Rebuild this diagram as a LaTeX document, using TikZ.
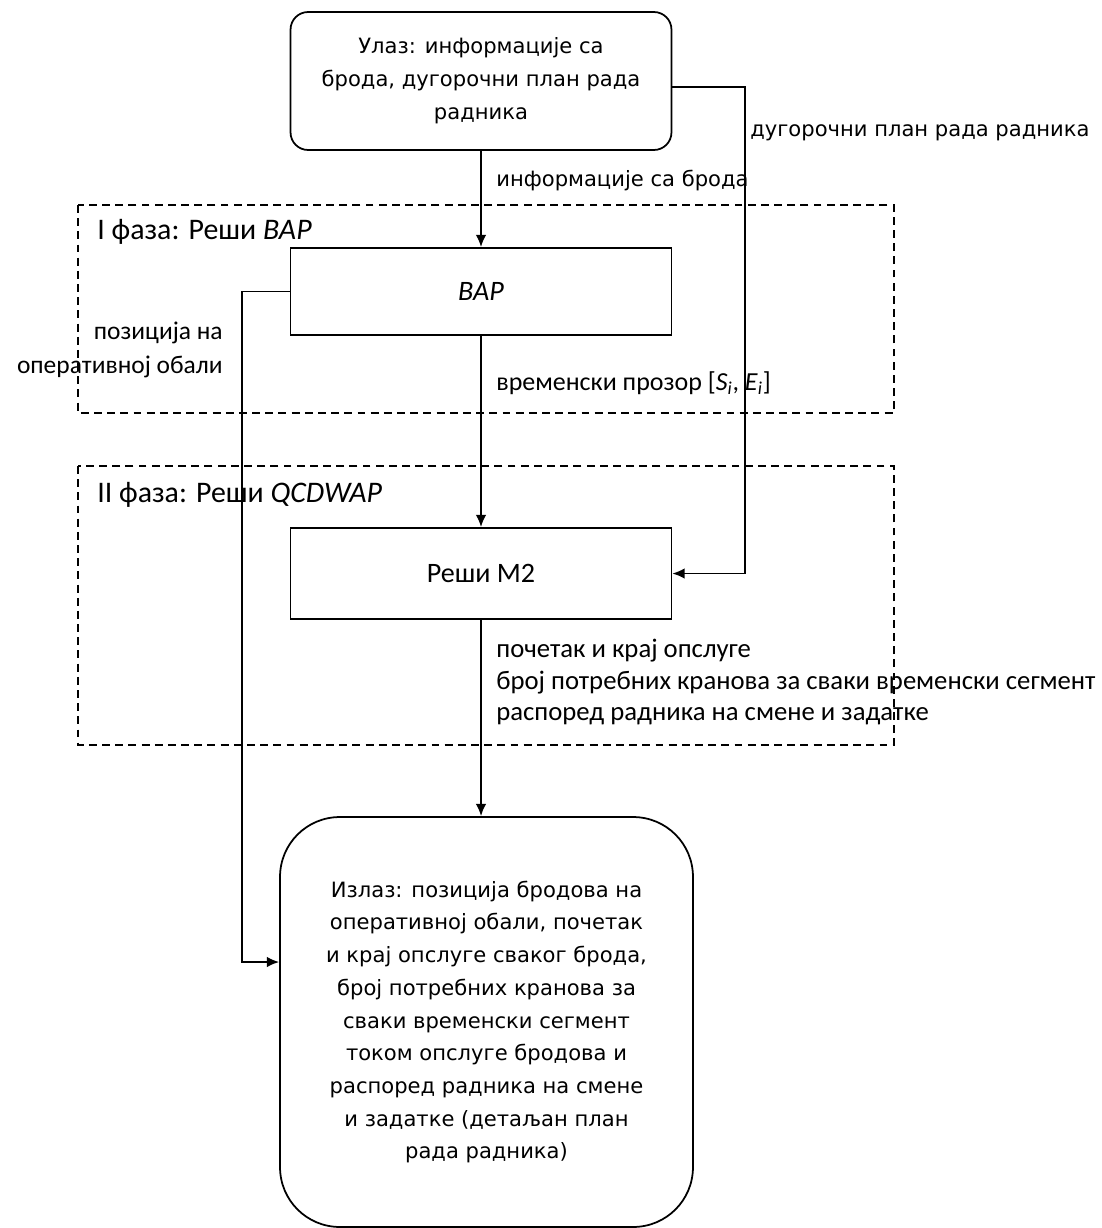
\documentclass[tikz,border=0pt]{standalone}
\usepackage{fontspec}
\setmainfont{DejaVu Sans}
\newfontfamily\calib{Carlito}
\usetikzlibrary{arrows.meta, positioning}

\begin{document}
\begin{tikzpicture}[x=0.02cm, y=-0.02cm, >={Latex[length=7pt,width=6pt]},
        blok/.style={draw, line width=1pt, minimum width=7.62cm, align=center},
        veza/.style={->, line width=1pt},
        faza/.style={draw, line width=0.7pt, dash pattern=on 4.5pt off 3pt},
        opis/.style={inner sep=0pt, anchor=west, font=\fontsize{12}{18.7}\selectfont},
        opisc/.style={inner sep=0pt, anchor=west, align=left, font=\calib\fontsize{15.2}{18.2}\selectfont}]
                \useasboundingbox (0,0) rectangle (1102,1228);
                \draw[faza] (78,205) rectangle (894,413);
                \draw[faza] (78,466) rectangle (894,745);
                \node[blok, rounded corners=10pt, minimum height=2.76cm, font=\fontsize{12}{18.7}\selectfont] (ulaz) at (481,81)
                    {Улаз: информације са\\брода, дугорочни план рада\\радника};
                \node[blok, minimum height=1.74cm, font=\calib\itshape\fontsize{16}{19}\selectfont] (bap) at (481,291.5) {BAP};
                \node[blok, minimum height=1.82cm, font=\calib\fontsize{16}{19}\selectfont] (m2) at (481,573.5) {Реши М2};
                \node[blok, rounded corners=34pt, minimum width=8.26cm, minimum height=8.2cm, font=\fontsize{12}{18.6}\selectfont] (izlaz) at (486.5,1022)
                    {Излаз: позиција бродова на\\оперативној обали, почетак\\и крај опслуге сваког брода,\\број потребних кранова за\\сваки временски сегмент\\током опслуге бродова и\\распоред радника на смене\\и задатке (детаљан план\\рада радника)};
                \coordinate (desno) at (745,87);
                \coordinate (levo) at (242,962);
                \draw[veza] (ulaz.south) -- (bap.north);
                \draw[veza] (bap.south) -- (m2.north);
                \draw[veza] (m2.south) -- (m2.south |- izlaz.north);
                \draw[veza] (ulaz.east |- desno) -- (desno) |- (m2.east);
                \draw[veza] (bap.west) -| (levo) -- (izlaz.west |- levo);
                \node[opis] (l1) at (496,180) {информације са брода};
                \node[opis] (l2) at (750,133) {дугорочни план рада радника};
                \node[opisc, font=\calib\fontsize{17}{19}\selectfont] (f1) at (97,232) {I фаза: Реши \textit{BAP}};
                \node[opisc, font=\calib\fontsize{17}{19}\selectfont] (f2) at (97,495) {II фаза: Реши \textit{QCDWAP}};
                \node[opisc, anchor=east, align=right, font=\calib\fontsize{14.5}{19.3}\selectfont] (l3) at (223,350) {позиција на\\оперативној обали};
                \node[opisc, font=\calib\fontsize{14.8}{18}\selectfont] (l4) at (496,383) {временски прозор [\textit{S}\textsubscript{\textit{i}}, \textit{E}\textsubscript{\textit{i}}]};
                \node[opisc] (l5) at (496,682) {почетак и крај опслуге\\број потребних кранова за сваки временски сегмент\\распоред радника на смене и задатке};
            \end{tikzpicture}
\end{document}
